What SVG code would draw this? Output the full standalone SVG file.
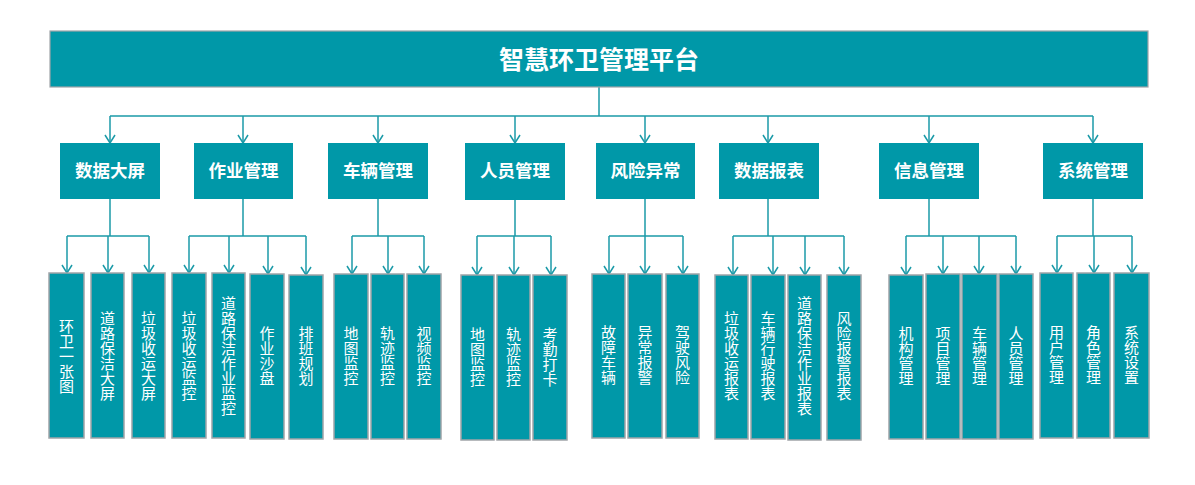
<svg xmlns="http://www.w3.org/2000/svg" width="1195" height="485" viewBox="0 0 1195 485">
<defs>
<marker id="arr" markerUnits="userSpaceOnUse" markerWidth="12" markerHeight="10" refX="5" refY="8" orient="0" viewBox="-1 -1 12 10">
<path d="M0,0 L5,8 L10,0" fill="none" stroke="#1b9aa8" stroke-width="1.5"/>
</marker>
<style>
.bg{fill:#ffffff}
.root{fill:#0098a8;stroke:#a0a4a8;stroke-width:1.2}
.l2{fill:#0098a8}
.l3{fill:#0098a8;stroke:#a0a4a8;stroke-width:1.5}
.t1{font-family:"Noto Sans CJK SC","Liberation Sans",sans-serif;font-size:25px;font-weight:bold;fill:#ffffff;text-anchor:middle}
.t2{font-family:"Noto Sans CJK SC","Liberation Sans",sans-serif;font-size:17.5px;font-weight:bold;fill:#ffffff;text-anchor:middle}
.t3{font-family:"Noto Sans CJK SC","Liberation Sans",sans-serif;font-size:15px;fill:#ffffff;text-anchor:middle;writing-mode:vertical-rl;text-orientation:upright}
.c{fill:none;stroke:#1b9aa8;stroke-width:1.5}
.ca{fill:none;stroke:#1b9aa8;stroke-width:1.5;marker-end:url(#arr)}
</style>
</defs>
<rect class="bg" x="0" y="0" width="1195" height="485"/>

<g id="connectors">
<path class="c" d="M599,87 V116 M110,116 H1093"/>
<path class="ca" d="M110,116 V143"/><path class="ca" d="M243,116 V143"/><path class="ca" d="M378,116 V143"/><path class="ca" d="M515,116 V143"/>
<path class="ca" d="M645,116 V143"/><path class="ca" d="M768,116 V143"/><path class="ca" d="M929,116 V143"/><path class="ca" d="M1093,116 V143"/>

<path class="c" d="M110,199 V236 M67,236 H149"/>
<path class="ca" d="M67,236 V273"/><path class="ca" d="M108,236 V273"/><path class="ca" d="M149,236 V273"/>

<path class="c" d="M243,199 V236 M189,236 H306"/>
<path class="ca" d="M189,236 V273"/><path class="ca" d="M229,236 V273"/><path class="ca" d="M268,236 V274"/><path class="ca" d="M306,236 V275"/>

<path class="c" d="M378,199 V236 M352,236 H424"/>
<path class="ca" d="M352,236 V274"/><path class="ca" d="M388,236 V274"/><path class="ca" d="M424,236 V274"/>

<path class="c" d="M515,200 V236 M477,236 H551"/>
<path class="ca" d="M477,236 V275"/><path class="ca" d="M514,236 V275"/><path class="ca" d="M551,236 V275"/>

<path class="c" d="M645,199 V236 M609,236 H683"/>
<path class="ca" d="M609,236 V274"/><path class="ca" d="M645,236 V274"/><path class="ca" d="M683,236 V274"/>

<path class="c" d="M768,199 V236 M733,236 H844"/>
<path class="ca" d="M733,236 V275"/><path class="ca" d="M773,236 V275"/><path class="ca" d="M805,236 V275"/><path class="ca" d="M844,236 V275"/>

<path class="c" d="M929,199 V236 M906,236 H1016"/>
<path class="ca" d="M906,236 V275"/><path class="ca" d="M943,236 V274"/><path class="ca" d="M979,236 V274"/><path class="ca" d="M1016,236 V274"/>

<path class="c" d="M1093,199 V236 M1057,236 H1132"/>
<path class="ca" d="M1057,236 V273"/><path class="ca" d="M1094,236 V273"/><path class="ca" d="M1132,236 V273"/>
</g>

<g id="root">
<rect class="root" x="50" y="31" width="1098" height="56"/>
<text class="t1" x="599" y="68.5">智慧环卫管理平台</text>
</g>

<g id="n-sjdp"><rect class="l2" x="60" y="143" width="100" height="56"/><text class="t2" x="110" y="177">数据大屏</text></g>
<g id="n-zygl"><rect class="l2" x="194" y="143" width="99" height="56"/><text class="t2" x="243.5" y="177">作业管理</text></g>
<g id="n-clgl"><rect class="l2" x="328" y="143" width="100" height="56"/><text class="t2" x="378" y="177">车辆管理</text></g>
<g id="n-rygl"><rect class="l2" x="465" y="143" width="100" height="57"/><text class="t2" x="515" y="177">人员管理</text></g>
<g id="n-fxyc"><rect class="l2" x="596" y="143" width="99" height="56"/><text class="t2" x="645.5" y="177">风险异常</text></g>
<g id="n-sjbb"><rect class="l2" x="719" y="143" width="100" height="56"/><text class="t2" x="769" y="177">数据报表</text></g>
<g id="n-xxgl"><rect class="l2" x="879" y="143" width="100" height="56"/><text class="t2" x="929" y="177">信息管理</text></g>
<g id="n-xtgl"><rect class="l2" x="1043" y="143" width="100" height="56"/><text class="t2" x="1093" y="177">系统管理</text></g>

<g id="n-hwyzt"><rect class="l3" x="49" y="273" width="35" height="165"/><text class="t3" x="66.5" y="356">环卫一张图</text></g>
<g id="n-dlbjdp"><rect class="l3" x="91" y="273" width="33" height="165"/><text class="t3" x="107.5" y="356">道路保洁大屏</text></g>
<g id="n-ljsydp"><rect class="l3" x="132" y="273" width="33" height="165"/><text class="t3" x="148.5" y="356">垃圾收运大屏</text></g>

<g id="n-ljsyjk"><rect class="l3" x="172" y="273" width="34" height="165"/><text class="t3" x="189" y="356">垃圾收运监控</text></g>
<g id="n-dlbjzyjk"><rect class="l3" x="212" y="273" width="33" height="165"/><text class="t3" x="228.5" y="356">道路保洁作业监控</text></g>
<g id="n-zysp"><rect class="l3" x="250" y="274" width="34" height="165"/><text class="t3" x="267" y="356">作业沙盘</text></g>
<g id="n-pbgh"><rect class="l3" x="289" y="275" width="34" height="164"/><text class="t3" x="306" y="356">排班规划</text></g>

<g id="n-dtjk1"><rect class="l3" x="334" y="274" width="34" height="165"/><text class="t3" x="351" y="356">地图监控</text></g>
<g id="n-gjjk1"><rect class="l3" x="371" y="274" width="33" height="165"/><text class="t3" x="387.5" y="356">轨迹监控</text></g>
<g id="n-spjk"><rect class="l3" x="407" y="274" width="34" height="165"/><text class="t3" x="424" y="356">视频监控</text></g>

<g id="n-dtjk2"><rect class="l3" x="461" y="275" width="33" height="165"/><text class="t3" x="477.5" y="357">地图监控</text></g>
<g id="n-gjjk2"><rect class="l3" x="497" y="275" width="33" height="165"/><text class="t3" x="513.5" y="357">轨迹监控</text></g>
<g id="n-kqdk"><rect class="l3" x="533" y="275" width="34" height="165"/><text class="t3" x="550" y="357">考勤打卡</text></g>

<g id="n-gzcl"><rect class="l3" x="592" y="274" width="33" height="164"/><text class="t3" x="608.5" y="355">故障车辆</text></g>
<g id="n-ycbj"><rect class="l3" x="628" y="274" width="34" height="164"/><text class="t3" x="645" y="355">异常报警</text></g>
<g id="n-jsfx"><rect class="l3" x="666" y="274" width="33" height="164"/><text class="t3" x="682.5" y="355">驾驶风险</text></g>

<g id="n-ljsybb"><rect class="l3" x="715" y="275" width="33" height="164"/><text class="t3" x="731.5" y="356">垃圾收运报表</text></g>
<g id="n-clxsbb"><rect class="l3" x="751" y="275" width="34" height="164"/><text class="t3" x="768" y="356">车辆行驶报表</text></g>
<g id="n-dlbjzybb"><rect class="l3" x="788" y="275" width="33" height="165"/><text class="t3" x="804.5" y="356">道路保洁作业报表</text></g>
<g id="n-fxbjbb"><rect class="l3" x="827" y="275" width="34" height="165"/><text class="t3" x="844" y="356">风险报警报表</text></g>

<g id="n-jggl"><rect class="l3" x="889" y="275" width="34" height="164"/><text class="t3" x="906" y="356">机构管理</text></g>
<g id="n-xmgl"><rect class="l3" x="926" y="274" width="34" height="165"/><text class="t3" x="943" y="356">项目管理</text></g>
<g id="n-clgl2"><rect class="l3" x="962" y="274" width="35" height="165"/><text class="t3" x="979.5" y="356">车辆管理</text></g>
<g id="n-rygl2"><rect class="l3" x="999" y="274" width="34" height="165"/><text class="t3" x="1016" y="356">人员管理</text></g>

<g id="n-yhgl"><rect class="l3" x="1040" y="273" width="33" height="165"/><text class="t3" x="1056.5" y="355">用户管理</text></g>
<g id="n-jsgl"><rect class="l3" x="1077" y="273" width="33" height="165"/><text class="t3" x="1093.5" y="355">角色管理</text></g>
<g id="n-xtsz"><rect class="l3" x="1114" y="273" width="35" height="165"/><text class="t3" x="1131.5" y="355">系统设置</text></g>
</svg>
